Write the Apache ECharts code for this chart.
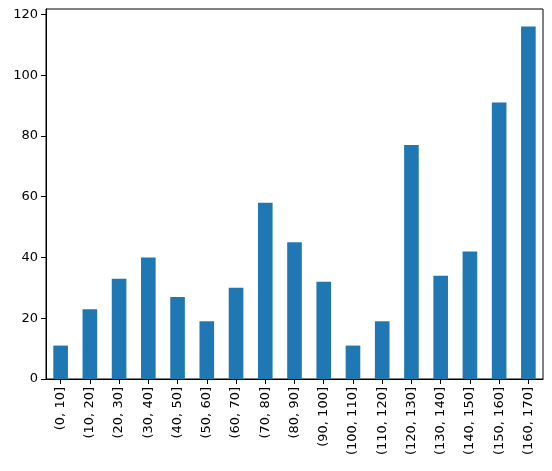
<!DOCTYPE html>
<html>
<head>
<meta charset="utf-8">
<script src="https://cdn.jsdelivr.net/npm/echarts@6/dist/echarts.min.js"></script>
<style>
  html, body { margin: 0; padding: 0; background: #fff; }
  #chart { width: 552px; height: 471px; }
</style>
</head>
<body>
<div id="chart"></div>
<script>
// bins and counts
const categories = ['(0, 10]', '(10, 20]', '(20, 30]', '(30, 40]', '(40, 50]', '(50, 60]', '(60, 70]',
  '(70, 80]', '(80, 90]', '(90, 100]', '(100, 110]', '(110, 120]', '(120, 130]', '(130, 140]',
  '(140, 150]', '(150, 160]', '(160, 170]']
const counts = [11, 23, 33, 40, 27, 19, 30, 58, 45, 32, 11, 19, 77, 34, 42, 91, 116]
const yTicks = [0, 20, 40, 60, 80, 100, 120]

const chart = echarts.init(document.getElementById('chart'))
const font = 'DejaVu Sans'

const option = {
  animation: false,
  grid: {
    left: 46,
    right: 9,
    top: 9,
    bottom: 92,
    show: true,
    borderColor: '#000',
    borderWidth: 1,
  },
  xAxis: {
    type: 'category',
    data: categories,
    boundaryGap: true,
    axisLine: { show: true, lineStyle: { color: '#000', width: 1 } },
    axisTick: { show: true, alignWithLabel: true, length: 5, lineStyle: { color: '#000', width: 1 } },
    axisLabel: {
      rotate: 90,
      interval: 0,
      margin: 8,
      color: '#000',
      fontFamily: font,
      fontSize: 13,
    },
    splitLine: { show: false },
  },
  yAxis: {
    type: 'value',
    min: 0,
    max: 121.8,
    interval: 20,
    axisLine: { show: true, lineStyle: { color: '#000', width: 1 } },
    axisTick: { show: true, length: 5, customValues: yTicks, lineStyle: { color: '#000', width: 1 } },
    axisLabel: {
      customValues: yTicks,
      margin: 8,
      color: '#000',
      fontFamily: font,
      fontSize: 13,
    },
    splitLine: { show: false },
  },
  series: [{
    type: 'bar',
    data: counts,
    barWidth: '50%',
    itemStyle: { color: '#1f77b4' },
  }],
}
chart.setOption(option)
</script>
</body>
</html>
